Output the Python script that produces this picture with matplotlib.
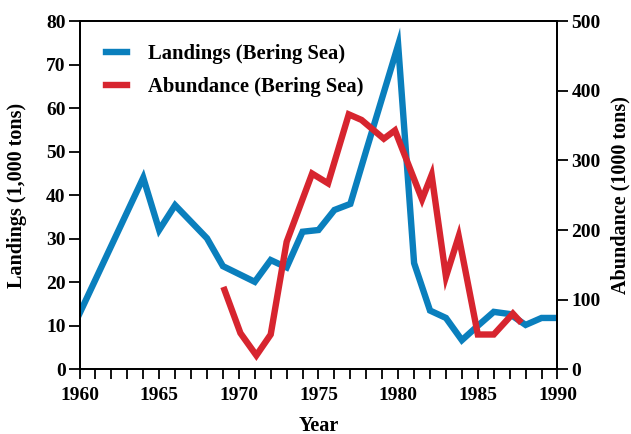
import matplotlib
matplotlib.use("Agg")
import matplotlib.pyplot as plt
from matplotlib.ticker import MultipleLocator

plt.rcParams.update(
    {
        "font.family": "serif",
        "font.serif": ["Liberation Serif", "DejaVu Serif"],
        "font.weight": "bold",
        "font.size": 14,
    }
)

BLUE = "#0a7fbd"
RED = "#d7252f"

# Landings, Bering Sea (1,000 tons), one value per year
landing_years = list(range(1960, 1991))
landings = [
    12.8, 20.6, 28.4, 36.2, 44.0, 32.0, 37.7, 33.9, 30.1, 23.7,
    21.9, 20.1, 25.1, 23.4, 31.6, 32.0, 36.6, 38.0, 50.3, 62.4,
    74.5, 24.4, 13.5, 11.8, 6.7, 10.0, 13.2, 12.7, 10.2, 11.8, 11.8,
]

# Abundance, Bering Sea (1000 tons), read at the vertices of the curve
abundance_years = [
    1969.1, 1970.1, 1971.1, 1972.0, 1973.0, 1974.6, 1975.6, 1976.9, 1977.7,
    1979.1, 1979.8, 1981.5, 1982.1, 1983.0, 1983.8, 1985.0, 1986.0, 1987.2,
    1987.6,
]
abundance = [
    114, 52, 20, 50, 183, 281, 267, 366, 358,
    331, 343, 244, 279, 133, 191, 50, 50, 80,
    70,
]

fig = plt.figure(figsize=(6.31, 4.34), dpi=100)
ax = fig.add_axes([0.126, 0.149, 0.7575, 0.8026])
ax2 = ax.twinx()

lw = 4.6
(l1,) = ax.plot(landing_years, landings, color=BLUE, lw=lw,
                solid_joinstyle="miter", label="Landings (Bering Sea)")
(l2,) = ax2.plot(abundance_years, abundance, color=RED, lw=lw,
                 solid_joinstyle="miter", label="Abundance (Bering Sea)")

ax.set_xlim(1960, 1990)
ax.set_ylim(0, 80)
ax2.set_ylim(0, 500)

ax.xaxis.set_major_locator(MultipleLocator(5))
ax.xaxis.set_minor_locator(MultipleLocator(1))
ax.yaxis.set_major_locator(MultipleLocator(10))
ax2.yaxis.set_major_locator(MultipleLocator(100))

ax.tick_params(axis="x", which="both", direction="out", length=7, width=1.3, pad=6)
ax.tick_params(axis="y", direction="out", length=8, width=1.3, pad=2)
ax2.tick_params(axis="y", direction="out", length=8, width=1.3, pad=2)

for a in (ax, ax2):
    for sp in a.spines.values():
        sp.set_linewidth(1.3)

ax.set_xlabel("Year", fontsize=14.5, fontweight="bold", labelpad=8)
ax.set_ylabel("Landings (1,000 tons)", fontsize=14.5, fontweight="bold", labelpad=14)
ax2.set_ylabel("Abundance (1000 tons)", fontsize=14.5, fontweight="bold", labelpad=7)

ax.legend(
    handles=[l1, l2],
    loc="upper left",
    bbox_to_anchor=(0.034, 0.963),
    frameon=False,
    borderpad=0,
    handlelength=1.0,
    handletextpad=1.03,
    labelspacing=0.62,
    prop={"weight": "bold", "size": 14.9},
)

fig.savefig("out.png", dpi=100)
